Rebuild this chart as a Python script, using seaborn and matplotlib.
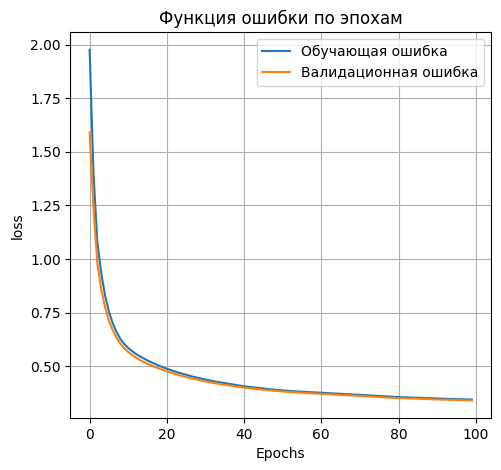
import matplotlib
matplotlib.use("Agg")
import matplotlib.pyplot as plt
from matplotlib.ticker import MultipleLocator, FormatStrFormatter
import seaborn as sns
import pandas as pd

train_loss = [
    1.975, 1.40, 1.08, 0.935, 0.83, 0.755, 0.700, 0.658, 0.626, 0.603,
    0.585, 0.570, 0.557, 0.546, 0.536, 0.527, 0.518, 0.510, 0.502, 0.495,
    0.488, 0.482, 0.476, 0.470, 0.465, 0.460, 0.455, 0.450, 0.446, 0.442,
    0.438, 0.434, 0.430, 0.427, 0.424, 0.421, 0.418, 0.415, 0.412, 0.409,
    0.406, 0.404, 0.402, 0.400, 0.398, 0.396, 0.394, 0.392, 0.390, 0.389,
    0.387, 0.386, 0.384, 0.383, 0.382, 0.381, 0.380, 0.379, 0.378, 0.377,
    0.376, 0.375, 0.374, 0.373, 0.372, 0.371, 0.370, 0.369, 0.368, 0.367,
    0.366, 0.365, 0.364, 0.363, 0.362, 0.361, 0.360, 0.359, 0.358, 0.357,
    0.356, 0.355, 0.355, 0.354, 0.353, 0.353, 0.352, 0.351, 0.351, 0.350,
    0.349, 0.349, 0.348, 0.347, 0.347, 0.346, 0.346, 0.345, 0.345, 0.344,
]
val_loss = [
    1.59, 1.24, 0.98, 0.86, 0.775, 0.712, 0.668, 0.632, 0.604, 0.583,
    0.566, 0.552, 0.540, 0.529, 0.520, 0.511, 0.503, 0.496, 0.489, 0.482,
    0.476, 0.470, 0.465, 0.459, 0.454, 0.450, 0.445, 0.441, 0.437, 0.433,
    0.429, 0.426, 0.422, 0.419, 0.416, 0.413, 0.410, 0.408, 0.405, 0.403,
    0.400, 0.398, 0.396, 0.394, 0.392, 0.390, 0.389, 0.387, 0.385, 0.384,
    0.382, 0.381, 0.379, 0.378, 0.377, 0.376, 0.375, 0.374, 0.373, 0.372,
    0.371, 0.370, 0.369, 0.368, 0.367, 0.366, 0.365, 0.364, 0.363, 0.362,
    0.361, 0.360, 0.359, 0.358, 0.357, 0.356, 0.355, 0.354, 0.353, 0.352,
    0.351, 0.351, 0.350, 0.349, 0.349, 0.348, 0.347, 0.347, 0.346, 0.345,
    0.345, 0.344, 0.344, 0.343, 0.343, 0.342, 0.342, 0.341, 0.341, 0.340,
]
epochs = list(range(len(train_loss)))

title = "Функция ошибки по эпохам"
train_label = "Обучающая ошибка"
val_label = "Валидационная ошибка"
x_label = "Epochs"
y_label = "loss"

df = pd.DataFrame({"epoch": epochs, "train": train_loss, "val": val_loss})

fig = plt.figure(figsize=(5.02, 4.70), dpi=100)
ax = fig.add_axes([70.5 / 502, 1 - 418 / 470, (491 - 70.5) / 502, (418 - 32.5) / 470])

sns.lineplot(data=df, x="epoch", y="train", ax=ax, label=train_label, color="#1f77b4")
sns.lineplot(data=df, x="epoch", y="val", ax=ax, label=val_label, color="#ff7f0e")

ax.yaxis.set_major_locator(MultipleLocator(0.25))
ax.yaxis.set_major_formatter(FormatStrFormatter("%.2f"))
ax.set_title(title)
ax.set_xlabel(x_label)
ax.set_ylabel(y_label)
ax.grid(True)
ax.legend(loc="upper right")

fig.savefig("out.png", dpi=100)
